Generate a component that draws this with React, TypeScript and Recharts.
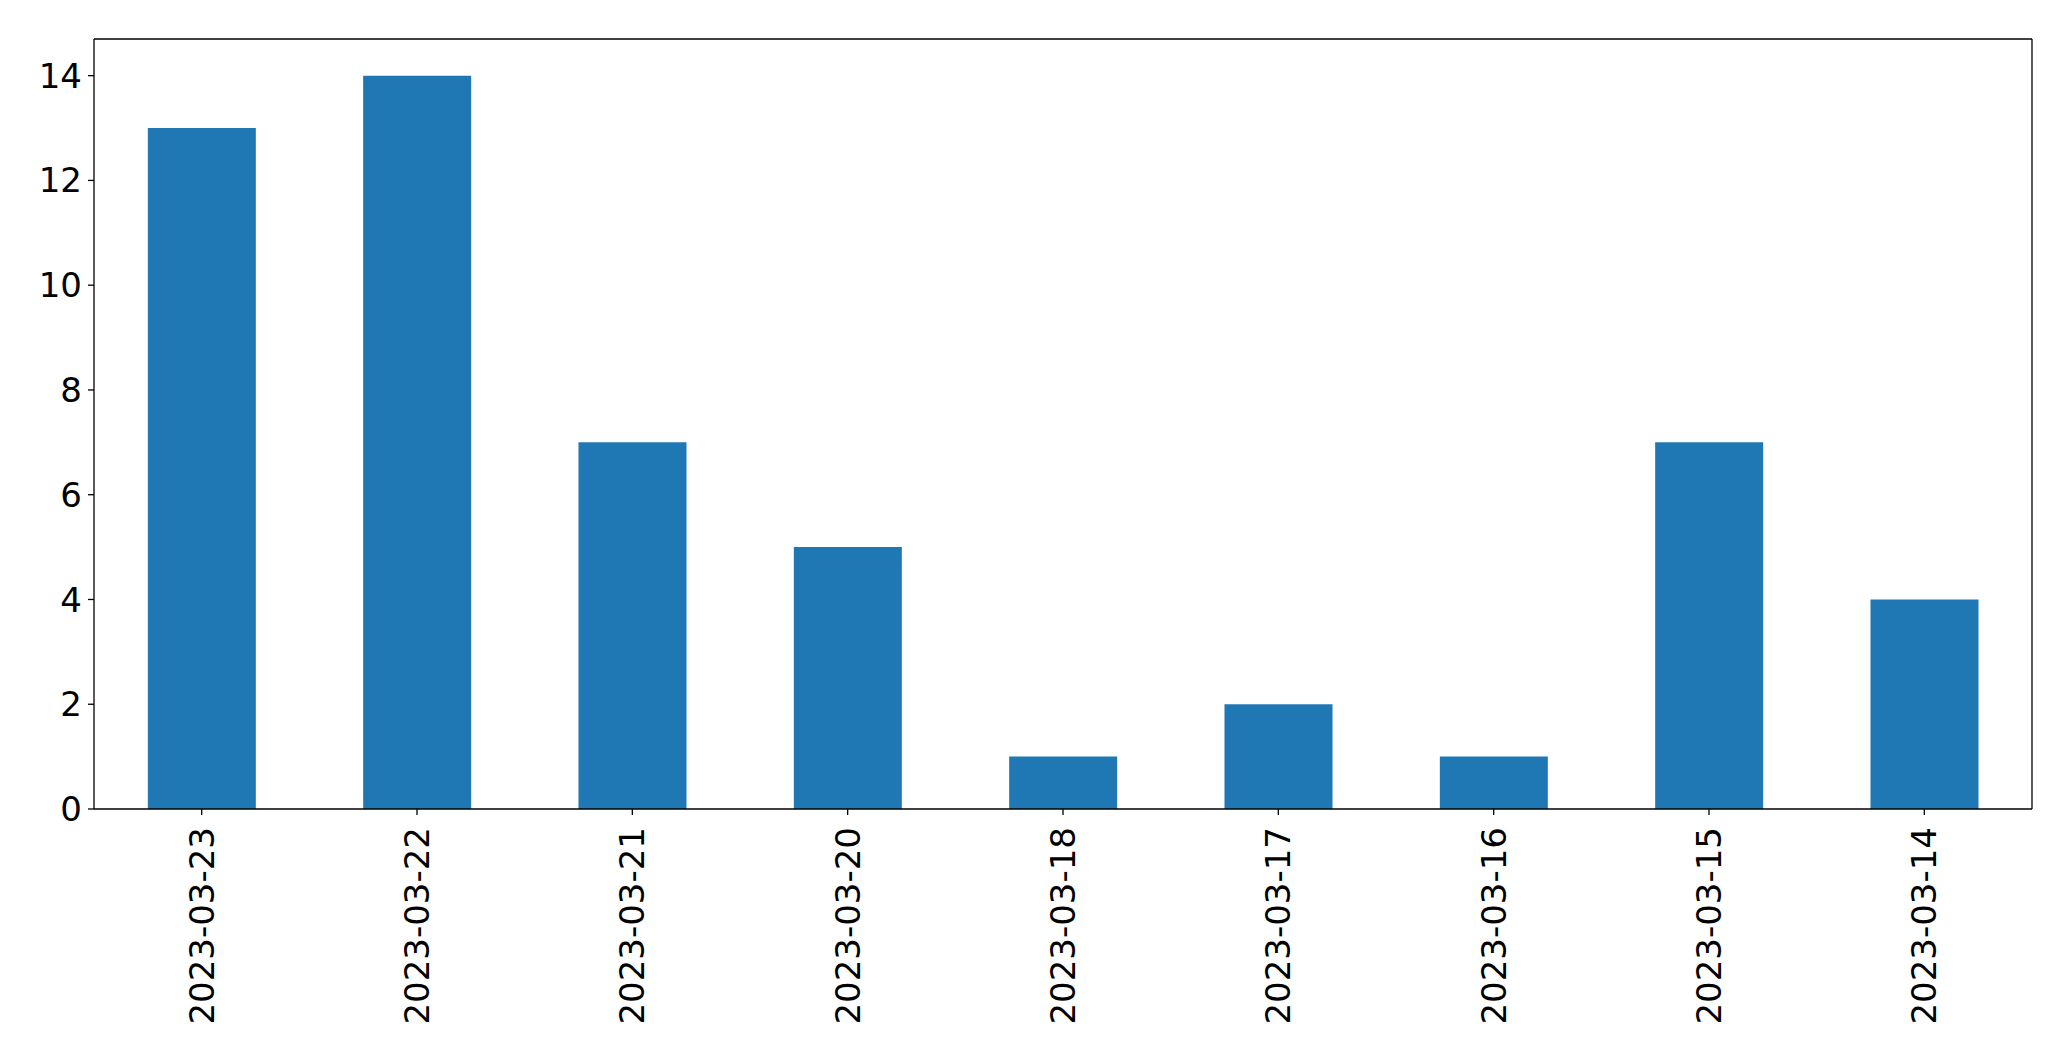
import { Bar, BarChart, XAxis, YAxis } from 'recharts'

const dates = [
  '2023-03-23',
  '2023-03-22',
  '2023-03-21',
  '2023-03-20',
  '2023-03-18',
  '2023-03-17',
  '2023-03-16',
  '2023-03-15',
  '2023-03-14',
]
const counts = [13, 14, 7, 5, 1, 2, 1, 7, 4]
const yTicks = [0, 2, 4, 6, 8, 10, 12, 14]

const data = dates.map((d, i) => ({ date: d, count: counts[i] }))

const font = '"DejaVu Sans", sans-serif'

function DateTick({ x, y, payload }: any) {
  return (
    <text
      x={x}
      y={y}
      transform={`rotate(-90, ${x}, ${y})`}
      textAnchor="end"
      dominantBaseline="central"
      fontSize={34}
      fontFamily={font}
      fill="#000"
    >
      {payload.value}
    </text>
  )
}

export default function App() {
  return (
    <div style={{ position: 'absolute', left: 0, top: 0, width: 2071, height: 1061, background: '#fff' }}>
      <BarChart
        width={2071}
        height={1061}
        data={data}
        margin={{ top: 38, right: 38, bottom: 52, left: 34 }}
        barCategoryGap="25%"
      >
        <XAxis
          dataKey="date"
          interval={0}
          height={200}
          tickSize={6}
          tickMargin={12}
          tick={<DateTick />}
          axisLine={{ stroke: '#000', strokeWidth: 1.3 }}
          tickLine={{ stroke: '#000', strokeWidth: 1.3 }}
        />
        <XAxis
          xAxisId="top"
          orientation="top"
          dataKey="date"
          height={1}
          tick={false}
          tickLine={false}
          axisLine={{ stroke: '#000', strokeWidth: 1.3 }}
        />
        <YAxis
          width={60}
          domain={[0, 14.7]}
          ticks={yTicks}
          tickSize={6}
          tickMargin={6}
          tick={{ fontSize: 34, fontFamily: font, fill: '#000' }}
          axisLine={{ stroke: '#000', strokeWidth: 1.3 }}
          tickLine={{ stroke: '#000', strokeWidth: 1.3 }}
        />
        <YAxis
          yAxisId="right"
          orientation="right"
          width={1}
          domain={[0, 14.7]}
          tick={false}
          tickLine={false}
          axisLine={{ stroke: '#000', strokeWidth: 1.3 }}
        />
        <Bar dataKey="count" fill="#1f77b4" isAnimationActive={false} />
      </BarChart>
    </div>
  )
}
